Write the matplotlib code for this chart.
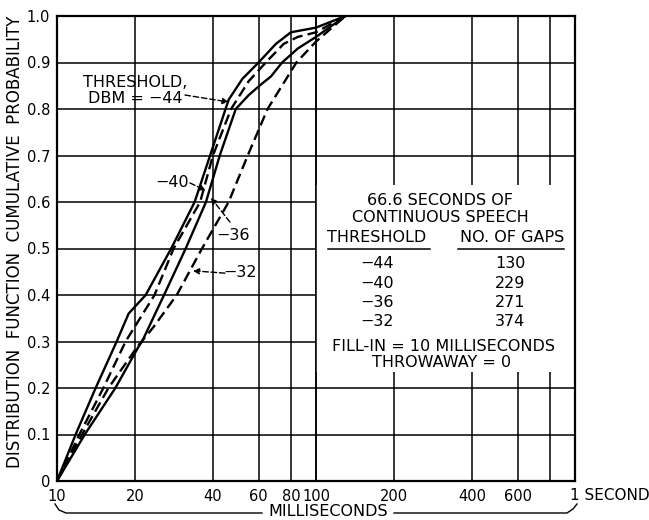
import matplotlib.pyplot as plt
from matplotlib.lines import Line2D
from matplotlib.patches import Rectangle
from matplotlib.ticker import NullLocator

plt.rcParams["font.family"] = "DejaVu Sans"

# gap length (milliseconds) vs. cumulative probability, one pair per threshold
ms_44 = [10, 11.8, 14.1, 17.0, 18.9, 22.0, 27.6, 34.0, 39.0, 46.0, 52, 60, 70, 80, 100, 130]
p_44 = [0, 0.1, 0.2, 0.3, 0.36, 0.4, 0.5, 0.6, 0.7, 0.82, 0.865, 0.9, 0.94, 0.965, 0.975, 1.0]

ms_40 = [10, 12.2, 15.1, 18.4, 23.8, 28.2, 35.7, 40.0, 47.0, 55, 64, 75, 85, 100, 130]
p_40 = [0, 0.1, 0.2, 0.3, 0.4, 0.5, 0.6, 0.7, 0.8, 0.86, 0.9, 0.94, 0.955, 0.965, 1.0]

ms_36 = [10, 12.8, 16.8, 20.7, 21.3, 25.9, 31.4, 37.6, 42.5, 49.0, 55, 62, 67, 74, 85, 100, 130]
p_36 = [0, 0.1, 0.2, 0.29, 0.3, 0.4, 0.5, 0.6, 0.7, 0.8, 0.83, 0.855, 0.87, 0.9, 0.93, 0.955, 1.0]

ms_32 = [10, 12.5, 15.8, 20.5, 23.5, 29.0, 36.3, 46.0, 54.5, 65.0, 84.0, 100, 130]
p_32 = [0, 0.1, 0.2, 0.29, 0.33, 0.4, 0.5, 0.6, 0.7, 0.8, 0.9, 0.945, 1.0]

thresholds = ["\u221244", "\u221240", "\u221236", "\u221232"]
gap_counts = [130, 229, 271, 374]

x_ticks = [10, 20, 40, 60, 80, 100, 200, 400, 600, 800, 1000]
x_tick_labels = ["10", "20", "40", "60", "80", "100", "200", "400", "600", "", ""]
y_ticks = [0, 0.1, 0.2, 0.3, 0.4, 0.5, 0.6, 0.7, 0.8, 0.9, 1.0]
y_tick_labels = ["0", "0.1", "0.2", "0.3", "0.4", "0.5", "0.6", "0.7", "0.8", "0.9", "1.0"]

W, H = 649, 520
fig = plt.figure(figsize=(W / 100, H / 100), dpi=100)
ax = fig.add_axes([57 / W, 1 - 481 / H, (575 - 57) / W, (481 - 16) / H])

ax.set_xscale("log")
ax.set_xlim(10, 1000)
ax.set_ylim(0, 1.0)
ax.set_xticks(x_ticks)
ax.set_xticklabels(x_tick_labels)
ax.xaxis.set_minor_locator(NullLocator())
ax.set_yticks(y_ticks)
ax.set_yticklabels(y_tick_labels)
ax.tick_params(length=0, labelsize=10.5, pad=6)
ax.tick_params(axis="y", pad=5)

ax.set_axisbelow(True)
ax.grid(True, color="black", lw=1.1)
for sp in ax.spines.values():
    sp.set_linewidth(1.6)

# blank panel for the caption, with the 100 ms line kept on top of it
ax.add_patch(Rectangle((100, 0.234), 900, 0.403, facecolor="white", edgecolor="none", zorder=1))
ax.axvline(100, color="black", lw=1.1, zorder=1.5)

line_kw = dict(color="black", lw=1.7, zorder=3)
dash = (0, (4.5, 2.2))
ax.plot(ms_44, p_44, **line_kw)
ax.plot(ms_40, p_40, linestyle=dash, **line_kw)
ax.plot(ms_36, p_36, **line_kw)
ax.plot(ms_32, p_32, linestyle=dash, **line_kw)

txt = dict(fontsize=11.5, color="black", ha="center", va="center", zorder=4)
arrow = dict(arrowstyle="-|>", color="black", lw=1.0, linestyle=(0, (4, 2)),
             mutation_scale=9, shrinkA=0, shrinkB=0)

ax.text(20.0, 0.84, "THRESHOLD,\nDBM = \u221244", linespacing=1.15, **txt)
ax.annotate("", xy=(46, 0.815), xytext=(31.2, 0.83), arrowprops=arrow)
ax.text(27.8, 0.643, "\u221240", **txt)
ax.annotate("", xy=(37.5, 0.625), xytext=(32.6, 0.641), arrowprops=arrow)
ax.text(47.8, 0.529, "\u221236", **txt)
ax.annotate("", xy=(39.3, 0.609), xytext=(46.5, 0.557), arrowprops=arrow)
ax.text(51.0, 0.449, "\u221232", **txt)
ax.annotate("", xy=(33.5, 0.452), xytext=(44.5, 0.447), arrowprops=arrow)

# caption table
ax.text(300, 0.604, "66.6 SECONDS OF", **txt)
ax.text(303, 0.566, "CONTINUOUS SPEECH", **txt)
ax.text(172, 0.523, "THRESHOLD", **txt)
ax.text(571, 0.523, "NO. OF GAPS", **txt)
ax.plot([111, 275], [0.500, 0.500], color="black", lw=1.1, zorder=4)
ax.plot([354, 904], [0.500, 0.500], color="black", lw=1.1, zorder=4)
for i, (th, n) in enumerate(zip(thresholds, gap_counts)):
    row_y = 0.467 - 0.0415 * i
    ax.text(172, row_y, th, **txt)
    ax.text(561, row_y, str(n), **txt)
ax.text(312, 0.290, "FILL-IN = 10 MILLISECONDS", **txt)
ax.text(306, 0.254, "THROWAWAY = 0", **txt)

# end label of the time axis
ax.annotate("1 SECOND", xy=(1000, 0), xycoords="data", xytext=(-3.5, -10.5),
            textcoords="offset points", ha="left", va="center", fontsize=11)

fig.text(15 / W, 1 - 242 / H, "DISTRIBUTION  FUNCTION  CUMULATIVE  PROBABILITY",
         rotation=90, ha="center", va="center", fontsize=12)

# brace under the axis spanning the millisecond range
fx = lambda px: px / W
fy = lambda py: 1 - py / H
left = Line2D([fx(55), fx(59), fx(66), fx(262)], [fy(504), fy(510), fy(513), fy(513)],
              transform=fig.transFigure, color="black", lw=1.0)
right = Line2D([fx(394), fx(567), fx(573), fx(577)], [fy(513), fy(513), fy(509), fy(504)],
               transform=fig.transFigure, color="black", lw=1.0)
fig.add_artist(left)
fig.add_artist(right)
fig.text(fx(328), fy(512), "MILLISECONDS", ha="center", va="center", fontsize=11.5)

fig.savefig("out.png", dpi=100)
